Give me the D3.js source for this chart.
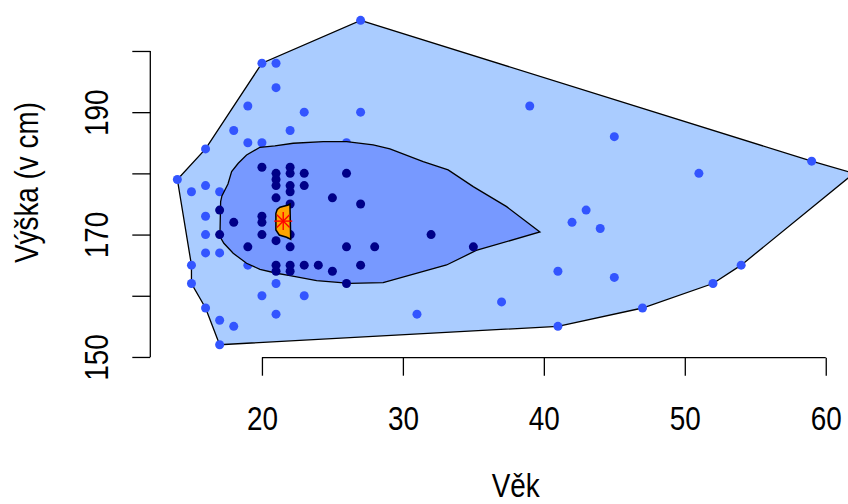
<!DOCTYPE html>
<html>
<head>
<meta charset="utf-8">
<script src="https://cdn.jsdelivr.net/npm/d3@7"></script>
<style>
  html, body { margin: 0; padding: 0; background: #fff; }
  svg { display: block; }
</style>
</head>
<body>
<div id="chart"></div>
<script>
// bagplot: vek vs vyska
// points outside the bag (loop)
let loopAge = [27, 20, 21, 21, 19, 23, 27, 18, 22, 19, 20, 16, 26, 39, 45, 43, 42, 44, 59, 51, 62, 54, 52, 47,
  41, 45, 37, 31, 41, 16, 17, 15, 15, 16, 17, 18, 17, 21, 20, 23, 21, 19, 14, 15, 16, 17, 16, 16]
let loopHeight = [205, 198, 198, 194, 191, 190, 190, 187, 187, 185, 185, 184, 185, 191, 186, 174, 172, 171, 182, 180, 180, 165, 162, 158,
  164, 163, 159, 157, 155, 167, 167, 165, 162, 158, 156, 155, 152, 162, 160, 160, 157, 165, 179, 177, 178, 177, 173, 170]

// points inside the bag
let bagAge = [20, 22, 21, 21, 21, 22, 22, 22, 23, 23, 26, 21, 22, 25, 27, 17, 20, 18, 20, 17, 20, 21, 22, 22, 19,
  26, 28, 21, 22, 23, 24, 27, 21, 22, 25, 26, 32, 35]
let bagHeight = [181, 181, 180, 179, 178, 180, 178, 177, 180, 178, 180, 176, 175, 176, 175, 174, 173, 172, 172, 170, 170, 169, 170, 168, 168,
  168, 168, 165, 165, 165, 165, 165, 164, 164, 164, 162, 170, 168]

// outline of the loop
let loopHull = [[27, 205], [59, 182], [62, 180], [54, 165], [52, 162], [47, 158], [41, 155], [17, 152], [16, 158],
  [15, 162], [15, 165], [14, 179], [16, 184], [20, 198]]

// outline of the bag
let bagHull = [[19.86, 184.26], [18.91, 183.01], [18.32, 181.65], [17.85, 180.28], [17.59, 178.27], [17.16, 176.31],
  [17.07, 175.38], [17.02, 169.66], [17.3, 168.58], [17.96, 166.94], [18.91, 165.31], [19.86, 164.33], [21.04, 163.68],
  [21.99, 163.28], [23.88, 162.47], [26.24, 162.04], [28.6, 162.14], [33.1, 165.03], [35.2, 167.4], [39.72, 170.42],
  [37.36, 174.56], [34.99, 177.83], [33.21, 180.56], [31.44, 181.91], [29.08, 183.99], [27.89, 184.64], [26.01, 185.18],
  [24.35, 185.18], [22.22, 184.92], [20.92, 184.48]]

// hull of the centre and the median
let centerHull = [[21.09, 174.13], [21.28, 174.46], [21.87, 174.84], [21.99, 175.0], [22.04, 169.23], [21.75, 169.56],
  [21.23, 169.93], [20.99, 170.75], [20.99, 173.48]]
let center = [21.51, 172.2]

let xTicks = [20, 30, 40, 50, 60]
let yTicks = [150, 160, 170, 180, 190, 200]
let yLabelTicks = [150, 170, 190]
let xTitle = 'Věk'
let yTitle = 'Výška (v cm)'

let W = 848, H = 504
let plot = { left: 150.3, right: 881, top: 7.4, bottom: 357.7 }
let font = '"Liberation Sans", Arial, sans-serif'
let fontSize = 34
let narrow = 'scale(0.82,1)'

let svg = d3.select('#chart').append('svg')
  .attr('width', W)
  .attr('height', H)
  .attr('viewBox', `0 0 ${W} ${H}`)

let x = d3.scaleLinear().domain([12.08, 63.92]).range([plot.left, plot.right])
let y = d3.scaleLinear().domain([149.88, 207.12]).range([plot.bottom, plot.top])

let line = d3.line().x(d => x(d[0])).y(d => y(d[1]))

// loop
svg.append('path')
  .attr('d', line(loopHull) + 'Z')
  .attr('fill', '#aaccff')
  .attr('stroke', '#000')
  .attr('stroke-width', 1.3)

svg.append('g').selectAll('circle')
  .data(loopAge.map((a, i) => [a, loopHeight[i]]))
  .join('circle')
  .attr('cx', d => x(d[0]))
  .attr('cy', d => y(d[1]))
  .attr('r', 4.5)
  .attr('fill', '#3355ff')

// bag
svg.append('path')
  .attr('d', line(bagHull) + 'Z')
  .attr('fill', '#7799ff')
  .attr('stroke', '#000')
  .attr('stroke-width', 1.3)

svg.append('g').selectAll('circle')
  .data(bagAge.map((a, i) => [a, bagHeight[i]]))
  .join('circle')
  .attr('cx', d => x(d[0]))
  .attr('cy', d => y(d[1]))
  .attr('r', 4.5)
  .attr('fill', '#000088')

// centre
svg.append('path')
  .attr('d', line(centerHull) + 'Z')
  .attr('fill', '#ffa500')
  .attr('stroke', '#000')
  .attr('stroke-width', 1.5)

let star = svg.append('g')
  .attr('transform', `translate(${x(center[0])},${y(center[1])})`)
  .attr('stroke', '#ff0000')
  .attr('stroke-width', 1.4)
let s = 9, k = 6.4
star.append('line').attr('x1', -s).attr('x2', s).attr('y1', 0).attr('y2', 0)
star.append('line').attr('x1', 0).attr('x2', 0).attr('y1', -s).attr('y2', s)
star.append('line').attr('x1', -k).attr('x2', k).attr('y1', -k).attr('y2', k)
star.append('line').attr('x1', -k).attr('x2', k).attr('y1', k).attr('y2', -k)

// axes
let xAxis = svg.append('g')
  .attr('transform', `translate(0,${plot.bottom})`)
  .call(d3.axisBottom(x).tickValues(xTicks).tickSize(18).tickSizeOuter(0))
xAxis.select('.domain').attr('d', `M${x(xTicks[0])},0H${x(xTicks[xTicks.length - 1])}`)
xAxis.selectAll('line, .domain').attr('stroke', '#000').attr('stroke-width', 1.3)
xAxis.selectAll('text')
  .attr('y', 72)
  .attr('dy', null)
  .attr('transform', narrow)
  .attr('fill', '#000')
  .style('font-family', font)
  .style('font-size', fontSize + 'px')

let yAxis = svg.append('g')
  .attr('transform', `translate(${plot.left},0)`)
  .call(d3.axisLeft(y).tickValues(yTicks).tickSize(18).tickSizeOuter(0)
    .tickFormat(d => yLabelTicks.includes(d) ? d : ''))
yAxis.select('.domain').attr('d', `M0,${y(yTicks[0])}V${y(yTicks[yTicks.length - 1])}`)
yAxis.selectAll('line, .domain').attr('stroke', '#000').attr('stroke-width', 1.3)
yAxis.selectAll('text')
  .attr('x', 0)
  .attr('y', -42)
  .attr('dy', null)
  .attr('text-anchor', 'middle')
  .attr('transform', 'rotate(-90) ' + narrow)
  .attr('fill', '#000')
  .style('font-family', font)
  .style('font-size', fontSize + 'px')

// titles
svg.append('text')
  .attr('transform', `translate(${(plot.left + plot.right) / 2},497) ${narrow}`)
  .attr('text-anchor', 'middle')
  .style('font-family', font)
  .style('font-size', fontSize + 'px')
  .text(xTitle)

svg.append('text')
  .attr('transform', `translate(38,${(plot.top + plot.bottom) / 2}) rotate(-90) ${narrow}`)
  .attr('text-anchor', 'middle')
  .style('font-family', font)
  .style('font-size', fontSize + 'px')
  .text(yTitle)
</script>
</body>
</html>
